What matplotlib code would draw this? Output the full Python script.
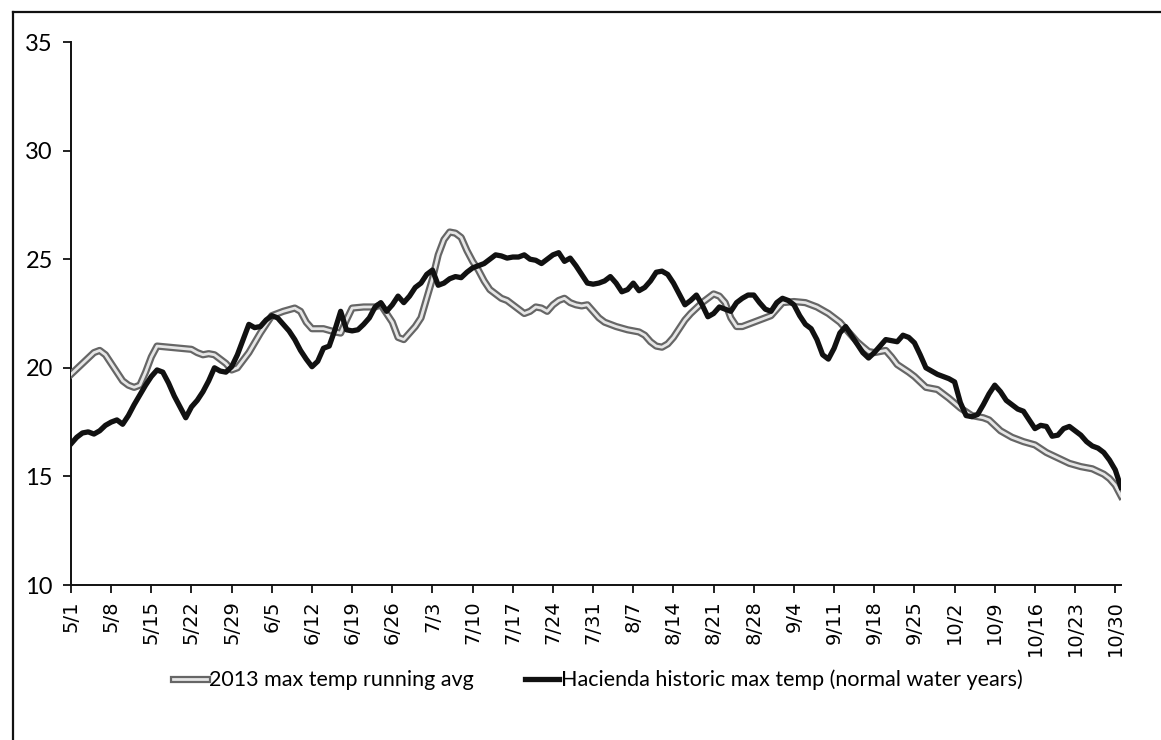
import matplotlib
matplotlib.use("Agg")
import matplotlib.pyplot as plt
import matplotlib.patheffects as pe
from matplotlib.lines import Line2D

# ---- data (day offset from 5/1, value in deg C) ----
days_2013 = [0, 2, 4, 5, 6, 8, 9, 10, 11, 12, 13, 14, 15, 17, 19, 21, 22, 23, 24, 25, 26, 27, 28, 29,
             31, 33, 35, 37, 39, 40, 41, 42, 44, 46, 47, 48, 49, 51, 53, 54, 55, 56, 57, 58, 59, 60,
             61, 62, 63, 64, 65, 66, 67, 68, 69, 70, 71, 72, 73, 74, 75, 76, 77, 78, 79, 80, 81, 82,
             83, 84, 85, 86, 87, 88, 89, 90, 91, 92, 93, 95, 97, 99, 100, 101, 102, 103, 104, 105,
             106, 107, 108, 110, 112, 113, 114, 115, 116, 117, 118, 120, 122, 124, 126, 128, 130,
             132, 134, 136, 137, 138, 139, 140, 142, 143, 144, 146, 147, 149, 151, 153, 155, 157,
             159, 160, 162, 164, 166, 168, 170, 172, 174, 176, 178, 180, 181, 182, 183]
temp_2013 = [19.7, 20.2, 20.7, 20.8, 20.6, 19.8, 19.4, 19.2, 19.1, 19.2, 19.8, 20.5, 21.0, 20.95, 20.9,
             20.85, 20.7, 20.6, 20.65, 20.6, 20.4, 20.2, 19.9, 20.0, 20.7, 21.6, 22.4, 22.6, 22.75,
             22.6, 22.1, 21.8, 21.8, 21.65, 21.6, 22.2, 22.75, 22.8, 22.8, 22.9, 22.5, 22.1, 21.4,
             21.3, 21.6, 21.9, 22.3, 23.2, 24.1, 25.2, 25.9, 26.25, 26.2, 26.0, 25.4, 24.9, 24.5,
             24.0, 23.6, 23.4, 23.2, 23.1, 22.9, 22.7, 22.5, 22.6, 22.8, 22.75, 22.6, 22.9, 23.1,
             23.2, 23.0, 22.9, 22.85, 22.9, 22.6, 22.3, 22.1, 21.9, 21.75, 21.65, 21.5, 21.2, 21.0,
             20.95, 21.1, 21.4, 21.8, 22.2, 22.5, 23.0, 23.4, 23.3, 23.0, 22.3, 21.9, 21.9, 22.0,
             22.2, 22.4, 23.0, 23.05, 23.0, 22.8, 22.5, 22.1, 21.5, 21.2, 20.97, 20.75, 20.7, 20.8,
             20.5, 20.15, 19.8, 19.6, 19.1, 19.0, 18.6, 18.15, 17.8, 17.7, 17.6, 17.1, 16.8, 16.6,
             16.45, 16.1, 15.85, 15.6, 15.45, 15.35, 15.1, 14.9, 14.6, 14.1]

days_hist = list(range(0, 184))
temp_hist = [16.5, 16.8, 17.0, 17.05, 16.95, 17.1, 17.35, 17.5, 17.6, 17.4,
             17.8, 18.3, 18.75, 19.2, 19.6, 19.9, 19.8, 19.3, 18.7, 18.2,
             17.7, 18.2, 18.5, 18.9, 19.4, 20.0, 19.85, 19.8, 20.05, 20.6,
             21.3, 22.0, 21.85, 21.9, 22.2, 22.4, 22.3, 22.0, 21.7, 21.3,
             20.8, 20.4, 20.05, 20.3, 20.9, 21.0, 21.75, 22.6, 21.75, 21.7,
             21.75, 22.0, 22.3, 22.8, 23.0, 22.6, 22.9, 23.3, 23.0, 23.3,
             23.7, 23.9, 24.3, 24.5, 23.8, 23.9, 24.1, 24.2, 24.15, 24.4,
             24.6, 24.7, 24.8, 25.0, 25.2, 25.15, 25.05, 25.1, 25.1, 25.2,
             25.0, 24.95, 24.8, 25.0, 25.2, 25.3, 24.9, 25.05, 24.7, 24.3,
             23.9, 23.85, 23.9, 24.0, 24.2, 23.9, 23.5, 23.6, 23.9, 23.55,
             23.7, 24.0, 24.4, 24.45, 24.3, 23.9, 23.4, 22.9, 23.1, 23.35,
             22.9, 22.35, 22.5, 22.8, 22.7, 22.6, 23.0, 23.2, 23.35, 23.35,
             23.0, 22.7, 22.6, 23.0, 23.2, 23.1, 22.9, 22.4, 22.0, 21.8,
             21.3, 20.6, 20.4, 20.9, 21.6, 21.9, 21.5, 21.1, 20.7, 20.45,
             20.7, 21.0, 21.3, 21.25, 21.2, 21.5, 21.4, 21.15, 20.6, 20.0,
             19.85, 19.7, 19.6, 19.5, 19.35, 18.4, 17.8, 17.75, 17.85, 18.3,
             18.8, 19.2, 18.9, 18.5, 18.3, 18.1, 18.0, 17.6, 17.2, 17.35,
             17.3, 16.85, 16.9, 17.2, 17.3, 17.1, 16.9, 16.6, 16.4, 16.3,
             16.1, 15.75, 15.3, 14.5]

tick_days = list(range(0, 183, 7))
tick_labels = ["5/1", "5/8", "5/15", "5/22", "5/29", "6/5", "6/12", "6/19", "6/26", "7/3",
               "7/10", "7/17", "7/24", "7/31", "8/7", "8/14", "8/21", "8/28", "9/4", "9/11",
               "9/18", "9/25", "10/2", "10/9", "10/16", "10/23", "10/30"]
y_ticks = [10, 15, 20, 25, 30, 35]

label_2013 = "2013 max temp running avg"
label_hist = "Hacienda historic max temp (normal water years)"

# ---- figure ----
W, H = 1161, 740
fig = plt.figure(figsize=(W / 100, H / 100), dpi=100)
ax = fig.add_axes([71 / W, 1 - 585 / H, (1121 - 71) / W, (585 - 42) / H])

gray_fx = [pe.Stroke(linewidth=5.2, foreground="#666666"),
           pe.Stroke(linewidth=2.0, foreground="#e6e6e6")]
ax.plot(days_2013, temp_2013, color="#e6e6e6", lw=2.0, solid_joinstyle="round",
        path_effects=gray_fx, label=label_2013, zorder=3)
ax.plot(days_hist, temp_hist, color="#111111", lw=3.8, solid_joinstyle="round",
        label=label_hist, zorder=4)

ax.set_xlim(0, 183)
ax.set_ylim(10, 35)
ax.set_yticks(y_ticks)
ax.set_xticks(tick_days)
ax.set_xticklabels(tick_labels, rotation=90, fontsize=14, family="DejaVu Sans")
ax.set_yticklabels([str(v) for v in y_ticks], fontsize=17, family="Lato")
for s in ["top", "right"]:
    ax.spines[s].set_visible(False)
for s in ["left", "bottom"]:
    ax.spines[s].set_linewidth(1.4)
    ax.spines[s].set_color("#111111")
ax.tick_params(axis="both", direction="out", length=6, width=1.3, color="#111111", pad=5)
ax.tick_params(axis="y", pad=7)

leg = fig.legend(loc="center", bbox_to_anchor=(0.515, 1 - 680 / H), ncol=2, frameon=False,
                 prop={"family": "Lato", "size": 15.5}, handlelength=1.55, handletextpad=0.1,
                 columnspacing=2.4)

# outer chart border (partly cropped in original)
fig.add_artist(Line2D([13 / W, 1.0], [1 - 12 / H, 1 - 12 / H], transform=fig.transFigure,
                      color="#111111", lw=1.6))
fig.add_artist(Line2D([13 / W, 13 / W], [0.0, 1 - 12 / H], transform=fig.transFigure,
                      color="#111111", lw=1.6))

fig.savefig("out.png", dpi=100, facecolor="white")
